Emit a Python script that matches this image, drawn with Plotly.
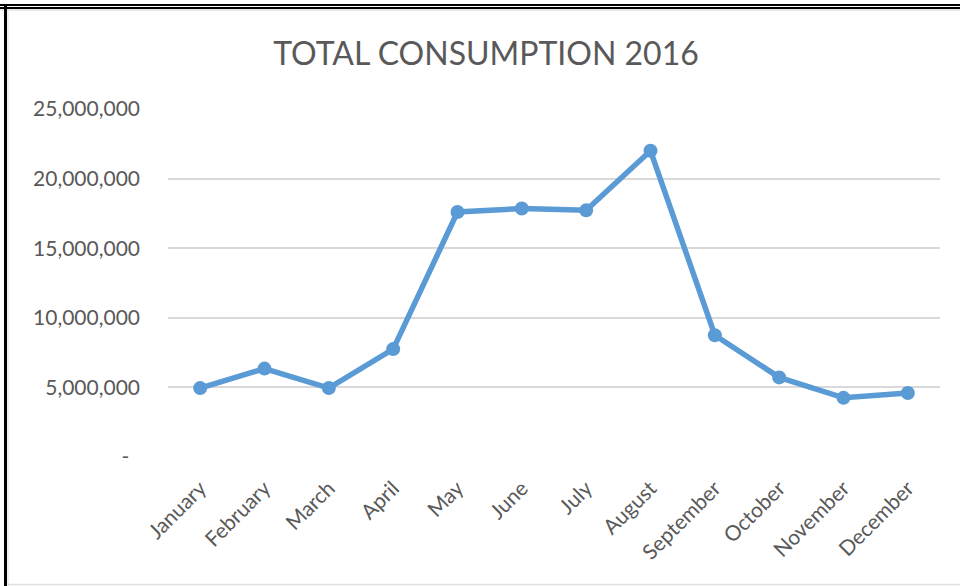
import plotly.graph_objects as go

months = ["January", "February", "March", "April", "May", "June",
          "July", "August", "September", "October", "November", "December"]
consumption = [4950000, 6350000, 4950000, 7750000, 17600000, 17850000,
               17720000, 22000000, 8750000, 5720000, 4250000, 4600000]

y_tickvals = [0, 5000000, 10000000, 15000000, 20000000, 25000000]
y_ticktext = ["-\u00a0\u00a0", "5,000,000", "10,000,000", "15,000,000",
              "20,000,000", "25,000,000"]

FONT = "Lato, Carlito, Calibri, sans-serif"
GREY = "#595959"

fig = go.Figure()
fig.add_trace(go.Scatter(
    x=months, y=consumption, mode="lines+markers",
    line=dict(color="#5B9BD5", width=5.5),
    marker=dict(color="#5B9BD5", size=14),
    hoverinfo="x+y", showlegend=False,
))

fig.update_layout(
    width=960, height=586,
    margin=dict(l=168, r=20, t=109, b=129),
    paper_bgcolor="white", plot_bgcolor="white",
    font=dict(family=FONT, color=GREY, size=21),
    title=dict(text="TOTAL CONSUMPTION 2016", x=486/960, xanchor="center",
               xref="container", y=1-53.5/586, yanchor="middle", yref="container",
               font=dict(family=FONT, size=32, color=GREY)),
    xaxis=dict(range=[-0.5, 11.5], showgrid=False, showline=False, zeroline=False,
               ticks="", tickangle=-45, ticklabelstandoff=14,
               tickfont=dict(family=FONT, size=21, color=GREY)),
    yaxis=dict(range=[0, 25000000], tickvals=y_tickvals, ticktext=y_ticktext,
               showgrid=True, gridcolor="#D9D9D9", gridwidth=2,
               zeroline=False, showline=False, ticks="", ticklabelstandoff=27,
               tickfont=dict(family=FONT, size=21, color=GREY)),
)

# chart-area frame (pixel positions converted to paper coordinates)
pw, ph = 960 - 168 - 20, 586 - 109 - 129
def px(x):
    return (x - 168) / pw
def py(y):
    return (586 - 129 - y) / ph

frame = [
    (0, 5, 960, 5, "black", 2),
    (0, 8, 960, 8, "black", 2),
    (0, 10, 960, 10, "#E0E0E0", 1.5),
    (5.5, 4, 5.5, 586, "black", 3),
    (8, 10, 8, 586, "#E0E0E0", 1),
    (8, 584.5, 960, 584.5, "#E0E0E0", 1.5),
]
for x0, y0, x1, y1, c, w in frame:
    fig.add_shape(type="line", xref="paper", yref="paper",
                  x0=px(x0), y0=py(y0), x1=px(x1), y1=py(y1),
                  line=dict(color=c, width=w), layer="above")

fig.write_html("out.html", config={"displayModeBar": False},
               post_script="document.body.style.margin='0';document.body.style.overflow='hidden';")
